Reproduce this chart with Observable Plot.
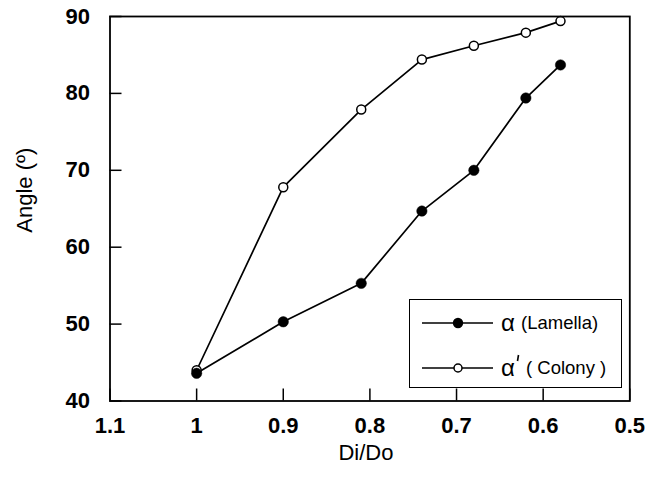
<!DOCTYPE html>
<html><head><meta charset="utf-8">
<script src="https://cdn.jsdelivr.net/npm/d3@7"></script>
<script src="https://cdn.jsdelivr.net/npm/@observablehq/plot@0.6"></script>
<style>
body{margin:0;background:#fff;}
#wrap{position:relative;width:649px;height:477px;font-family:"Liberation Sans",Arial,sans-serif;}
#legend{position:absolute;left:409px;top:299px;width:211px;height:87px;border:1.6px solid #000;background:#fff;box-sizing:content-box;}
#legend svg{position:absolute;left:0;top:0;}
</style></head><body><div id="wrap"></div>
<script>
const diDo = [1.0, 0.9, 0.81, 0.74, 0.68, 0.62, 0.58];
const lamella = [43.6, 50.3, 55.3, 64.7, 70.0, 79.4, 83.7];
const colony = [44.0, 67.8, 77.9, 84.4, 86.2, 87.9, 89.4];
const seriesNames = ["Lamella", "Colony"];
const xTicks = [1.1, 1, 0.9, 0.8, 0.7, 0.6, 0.5];
const yTicks = [40, 50, 60, 70, 80, 90];
const xLabel = "Di/Do";
const yLabel = "Angle (º)";

const rows = [
  ...diDo.map((d, i) => ({x: d, y: lamella[i], s: seriesNames[0]})),
  ...diDo.map((d, i) => ({x: d, y: colony[i], s: seriesNames[1]}))
];

const W = 649, H = 477, mL = 109.5, mR = 19.7, mT = 16, mB = 76.5;
const innerW = W - mL - mR, innerH = H - mT - mB;
const tickLen = 12;

const chart = Plot.plot({
  width: W, height: H,
  marginLeft: mL, marginRight: mR, marginTop: mT, marginBottom: mB,
  style: {fontFamily: "'Liberation Sans', Arial, sans-serif", background: "#fff", color: "#000"},
  x: {domain: [1.1, 0.5], label: null},
  y: {domain: [40, 90], label: null},
  marks: [
    Plot.tickX(xTicks, {x: d => d, insetTop: innerH - tickLen, stroke: "#000", strokeWidth: 1.5}),
    Plot.tickY(yTicks, {y: d => d, insetRight: innerW - tickLen, stroke: "#000", strokeWidth: 1.5}),
    Plot.axisX(xTicks, {tickSize: 0, tickPadding: 16, fontSize: 22, fontWeight: "bold", tickFormat: d => String(d), label: null}),
    Plot.axisY(yTicks, {tickSize: 0, tickPadding: 20, fontSize: 22, fontWeight: "bold", tickFormat: d => String(d), label: null}),
    Plot.text([xLabel], {text: d => d, frameAnchor: "bottom", dy: 52, dx: -4, fontSize: 22, lineAnchor: "middle"}),
    Plot.text([yLabel], {text: d => d, frameAnchor: "left", rotate: -90, dx: -85, dy: 24, fontSize: 22, lineAnchor: "middle"}),
    Plot.line(rows, {x: "x", y: "y", z: "s", stroke: "#000", strokeWidth: 1.7}),
    Plot.dot(rows.filter(r => r.s === seriesNames[1]), {x: "x", y: "y", r: 4.5, fill: "#fff", stroke: "#000", strokeWidth: 1.5}),
    Plot.dot(rows.filter(r => r.s === seriesNames[0]), {x: "x", y: "y", r: 5.2, fill: "#000", stroke: "#000", strokeWidth: 0.5}),
    Plot.frame({stroke: "#000", strokeWidth: 1.8})
  ]
});
const wrap = document.getElementById("wrap");
wrap.appendChild(chart);

// legend overlay
const lg = document.createElement("div");
lg.id = "legend";
lg.innerHTML = `<svg width="211" height="87" font-family="'Liberation Sans', Arial, sans-serif">
  <line x1="12" x2="83" y1="23" y2="23" stroke="#000" stroke-width="1.6"/>
  <circle cx="48" cy="23" r="5.2" fill="#000"/>
  <text x="91" y="23" dy="0.35em" font-size="24">α</text>
  <text x="111" y="23" dy="0.35em" font-size="18.5">(Lamella)</text>
  <line x1="12" x2="83" y1="68" y2="68" stroke="#000" stroke-width="1.6"/>
  <circle cx="48" cy="68" r="4" fill="#fff" stroke="#000" stroke-width="1.5"/>
  <text x="91" y="68" dy="0.35em" font-size="24">α</text>
  <line x1="108.5" x2="107.5" y1="55" y2="61" stroke="#000" stroke-width="1.6"/>
  <text x="116" y="68" dy="0.35em" font-size="18.5">( Colony )</text>
</svg>`;
wrap.appendChild(lg);
</script>
</body></html>
